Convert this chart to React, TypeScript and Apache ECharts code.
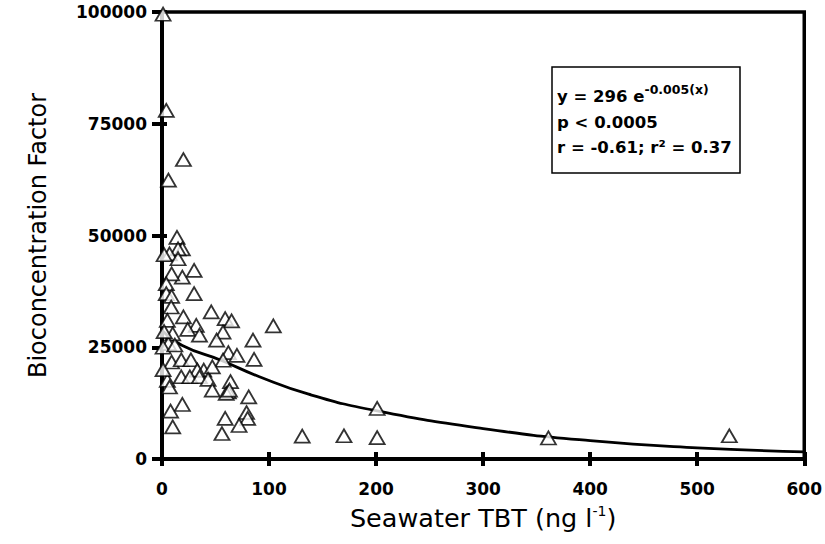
import React, { useEffect, useRef } from "react";
import * as echarts from "echarts";

const xTicks = [0, 100, 200, 300, 400, 500, 600];
const yTicks = [0, 25000, 50000, 75000, 100000];

const tbtValues = [
  1, 4, 20, 6, 14, 19, 15, 7, 2, 15, 30, 19, 9, 4, 4, 30, 9, 8.6, 46, 20, 59, 65, 5, 32, 24, 35, 57, 51, 10, 6,
  62, 70, 57, 9, 18, 27, 39, 33, 47, 5, 18, 26, 35, 43, 64, 7, 104, 85, 86, 47, 62, 81, 79, 80, 59, 72, 56, 19,
  8, 10, 131, 170, 201, 201, 361, 530, 1, 1, 2, 12, 60, 63,
];
const bcfValues = [
  99500, 78000, 67000, 62400, 49600, 47000, 47000, 45900, 45700, 44800, 42200, 40700, 41400, 39200, 37000, 37000,
  36400, 34000, 32900, 31800, 31400, 30900, 31000, 29900, 29000, 27700, 28400, 26600, 28000, 25800, 23800, 23200,
  22100, 21700, 22200, 22200, 19900, 19900, 20600, 17600, 18400, 18400, 18400, 17800, 17300, 16100, 29800, 26600,
  22300, 15400, 15000, 13900, 10400, 9100, 9100, 7500, 5700, 12200, 10700, 7200, 5100, 5200, 4800, 11300, 4700,
  5200, 25000, 20000, 28500, 25500, 14700, 15400,
];

const fitX = [0, 19, 55, 91, 137, 200, 300, 400, 500, 600];
const fitY = [28800, 25400, 22100, 18400, 14500, 10800, 6800, 4100, 2500, 1600];

const statLines = ["y = 296 e{sup|-0.005(x)}", "p < 0.0005", "r = -0.61; r² = 0.37"];

export default function App() {
  const ref = useRef<HTMLDivElement>(null);
  useEffect(() => {
    if (!ref.current) return;
    const chart = echarts.init(ref.current, undefined, { renderer: "svg" });
    const font = "'DejaVu Sans', Arial, sans-serif";
    const scatter = tbtValues.map((x, i) => [x, bcfValues[i]]);
    const fit = fitX.map((x, i) => [x, fitY[i]]);
    const grid = { left: 162, top: 12, right: 16, bottom: 85 };
    const baseX = {
      type: "value",
      min: xTicks[0],
      max: xTicks[xTicks.length - 1],
      interval: 100,
      splitLine: { show: false },
    };
    const baseY = {
      type: "value",
      min: yTicks[0],
      max: yTicks[yTicks.length - 1],
      interval: 25000,
      splitLine: { show: false },
    };
    const lineY = [96, 122, 147];
    chart.setOption({
      animation: false,
      backgroundColor: "#fff",
      grid: { ...grid, show: true, borderColor: "#000", borderWidth: 3.5, backgroundColor: "transparent" },
      xAxis: [
        {
          ...baseX,
          position: "bottom",
          axisLine: { show: true, lineStyle: { color: "#000", width: 4 } },
          axisTick: { show: true, inside: false, length: 7, lineStyle: { color: "#000", width: 4 } },
          axisLabel: {
            show: true,
            color: "#000",
            fontFamily: font,
            fontWeight: "bold",
            fontSize: 17,
            margin: 21,
            formatter: (v: number) => String(v),
          },
          name: "Seawater TBT (ng l{sup|-1})",
          nameLocation: "middle",
          nameGap: 45,
          nameTextStyle: {
            color: "#000",
            fontFamily: font,
            fontSize: 25.5,
            rich: {
              sup: { fontSize: 14, verticalAlign: "top", padding: [0, 0, 13, 0], color: "#000", fontFamily: font },
            },
          },
        },
        {
          ...baseX,
          position: "bottom",
          axisLine: { show: false },
          axisTick: { show: true, inside: true, length: 7, lineStyle: { color: "#000", width: 4 } },
          axisLabel: { show: false },
        },
      ],
      yAxis: [
        {
          ...baseY,
          position: "left",
          axisLine: { show: true, lineStyle: { color: "#000", width: 4 } },
          axisTick: { show: true, inside: false, length: 10, lineStyle: { color: "#000", width: 4 } },
          axisLabel: {
            show: true,
            color: "#000",
            fontFamily: font,
            fontWeight: "bold",
            fontSize: 17,
            margin: 15,
            formatter: (v: number) => String(v),
          },
          name: "Bioconcentration Factor",
          nameLocation: "middle",
          nameGap: 112,
          nameTextStyle: { color: "#000", fontFamily: font, fontSize: 24 },
        },
        {
          ...baseY,
          position: "left",
          axisLine: { show: false },
          axisTick: { show: true, inside: true, length: 5, lineStyle: { color: "#000", width: 4 } },
          axisLabel: { show: false },
        },
      ],
      series: [
        {
          type: "line",
          data: fit,
          smooth: true,
          showSymbol: false,
          symbol: "none",
          lineStyle: { color: "#000", width: 2.8 },
          z: 3,
        },
        {
          type: "scatter",
          data: scatter,
          symbol: "triangle",
          symbolSize: [15, 13],
          itemStyle: { color: "#fff", borderColor: "#000", borderWidth: 1.8 },
          z: 4,
        },
      ],
      graphic: [
        {
          type: "rect",
          shape: { x: 552, y: 67, width: 188, height: 106 },
          style: { fill: "#fff", stroke: "#000", lineWidth: 1.5 },
          z: 10,
        },
        ...statLines.map((t, i) => ({
          type: "text",
          x: 557,
          y: lineY[i],
          style: {
            text: t,
            fill: "#000",
            font: "bold 16.5px " + font,
            verticalAlign: "middle",
            rich: {
              sup: { fontSize: 12.5, fontWeight: "bold", fontFamily: font, fill: "#000", padding: [0, 0, 14, 0] },
            },
          },
          z: 11,
        })),
      ],
    });
    return () => chart.dispose();
  }, []);
  return (
    <div
      ref={ref}
      style={{ position: "fixed", left: 0, top: 0, width: 825, height: 544, background: "#fff" }}
    />
  );
}
